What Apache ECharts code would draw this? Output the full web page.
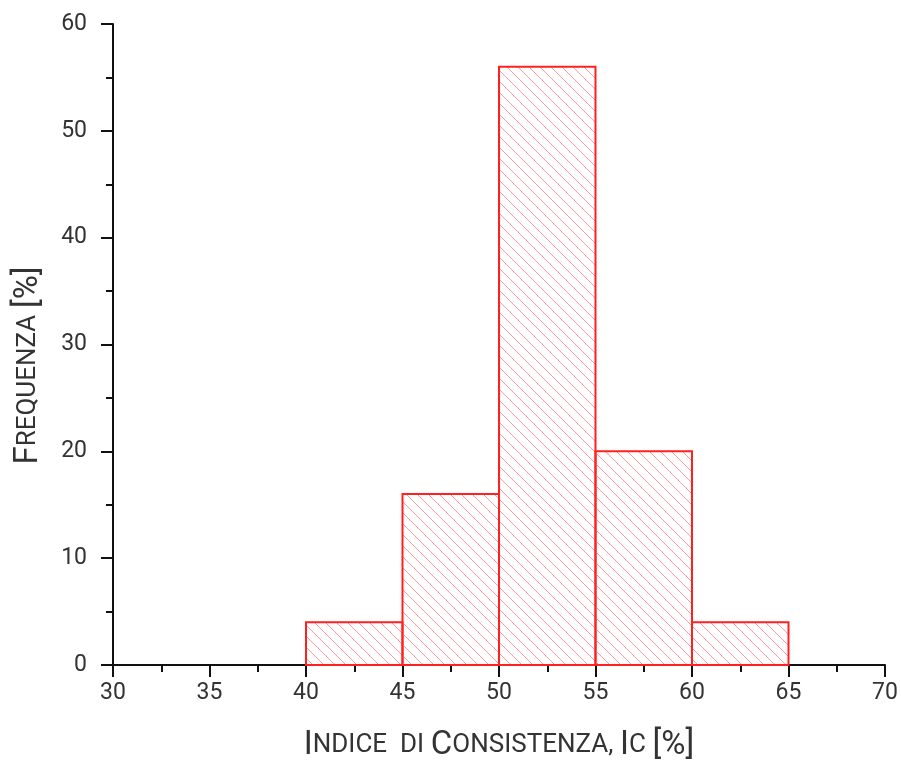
<!DOCTYPE html>
<html>
<head>
<meta charset="utf-8">
<script src="https://cdn.jsdelivr.net/npm/echarts@6/dist/echarts.min.js"></script>
<style>
  html, body { margin: 0; padding: 0; background: #fff; }
  #chart { width: 901px; height: 767px; }
</style>
</head>
<body>
<div id="chart"></div>
<script>
// histogram bins (Ic %) and frequencies (%)
const binStart = [40, 45, 50, 55, 60];
const binEnd = [45, 50, 55, 60, 65];
const freq = [4, 16, 56, 20, 4];

const xTicks = [30, 35, 40, 45, 50, 55, 60, 65, 70];
const yTicks = [0, 10, 20, 30, 40, 50, 60];

// diagonal hatch tile
function hatch() {
  const s = 11;
  const c = document.createElement('canvas');
  c.width = s; c.height = s;
  const g = c.getContext('2d');
  g.strokeStyle = '#ff9a9a';
  g.lineWidth = 1;
  g.beginPath();
  g.moveTo(-1, -1); g.lineTo(s + 1, s + 1);
  g.moveTo(-1, s - 1); g.lineTo(1, s + 1);
  g.moveTo(s - 1, -1); g.lineTo(s + 1, 1);
  g.stroke();
  return c;
}
const pattern = { image: hatch(), repeat: 'repeat' };

const data = binStart.map((s, i) => [s, binEnd[i], freq[i]]);

const font = 'Roboto';
const axisCol = '#111';
const txt = '#333';

const chart = echarts.init(document.getElementById('chart'));
chart.setOption({
  animation: false,
  grid: { left: 113, right: 16, top: 24, bottom: 101 },
  xAxis: {
    type: 'value', min: 30, max: 70, interval: 5,
    name: '{a|I}{b|NDICE  DI}  {a|C}{b|ONSISTENZA,}  {a|I}{b|C}  {a|[%]}',
    nameLocation: 'middle', nameGap: 64,
    nameTextStyle: {
      rich: {
        a: { fontFamily: font, fontSize: 33, color: txt },
        b: { fontFamily: font, fontSize: 26, color: txt }
      }
    },
    axisLine: { lineStyle: { color: axisCol, width: 2 } },
    axisTick: { length: 12, lineStyle: { color: axisCol, width: 2 } },
    minorTick: { show: true, splitNumber: 2, length: 7, lineStyle: { color: axisCol, width: 2 } },
    axisLabel: {
      margin: 17, fontFamily: font, fontSize: 23, color: txt,
      formatter: v => xTicks.includes(v) ? String(v) : ''
    },
    splitLine: { show: false }
  },
  yAxis: {
    type: 'value', min: 0, max: 60, interval: 10,
    name: '{a|F}{b|REQUENZA}  {a|[%]}',
    nameLocation: 'middle', nameGap: 68,
    nameTextStyle: {
      padding: [0, 42, 0, 0],
      rich: {
        a: { fontFamily: font, fontSize: 33, color: txt },
        b: { fontFamily: font, fontSize: 26, color: txt }
      }
    },
    axisLine: { show: true, lineStyle: { color: axisCol, width: 2 } },
    axisTick: { show: true, length: 12, lineStyle: { color: axisCol, width: 2 } },
    minorTick: { show: true, splitNumber: 2, length: 7, lineStyle: { color: axisCol, width: 2 } },
    axisLabel: {
      margin: 26, fontFamily: font, fontSize: 23, color: txt,
      formatter: v => yTicks.includes(v) ? String(v) : ''
    },
    splitLine: { show: false }
  },
  series: [{
    type: 'custom',
    data: data,
    encode: { x: [0, 1], y: 2 },
    renderItem: function (params, api) {
      const p0 = api.coord([api.value(0), api.value(2)]);
      const p1 = api.coord([api.value(1), 0]);
      return {
        type: 'rect',
        shape: { x: p0[0], y: p0[1], width: p1[0] - p0[0], height: p1[1] - p0[1] },
        style: { fill: pattern, stroke: '#ff2020', lineWidth: 2 }
      };
    }
  }]
});
</script>
</body>
</html>
